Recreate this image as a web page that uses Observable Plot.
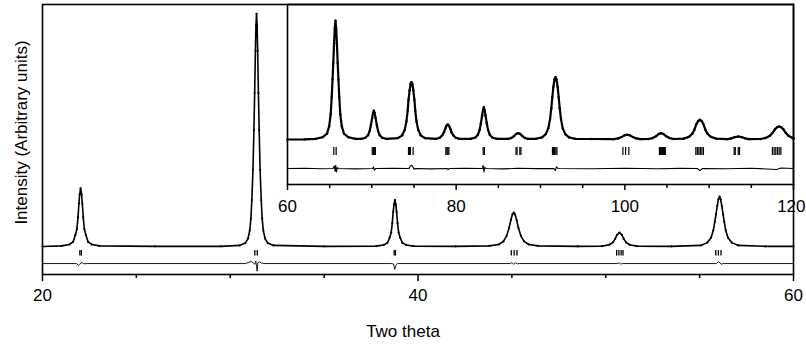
<!DOCTYPE html>
<html><head><meta charset="utf-8">
<script src="https://cdn.jsdelivr.net/npm/d3@7"></script>
<script src="https://cdn.jsdelivr.net/npm/@observablehq/plot@0.6"></script>
<style>
html,body{margin:0;padding:0;background:#fff;}
#chart{position:relative;width:806px;height:345px;}
#chart svg{position:absolute;overflow:visible;}
</style></head><body><div id="chart"></div>
<script>
// ---- Main pattern (2θ 20–60) : [two theta, intensity] ----
const mainProfile = [
[20,0],[21.03,0.3],[21.43,0.9],[21.63,2],[21.75,5],[21.83,7.5],[21.89,12.5],[21.94,18.5],[21.98,22.5],[22.03,25],[22.08,22.5],[22.12,18.5],[22.17,12.5],[22.23,7.5],[22.31,5],[22.43,2],[22.63,0.9],[23.03,0.3],[26,0.1],[29.5,0.1],
[30.5,0.5],[30.8,1.5],[30.95,3.5],[31.04,7],[31.1,12],[31.15,20],[31.21,33],[31.26,50],[31.3,66],[31.34,84],[31.37,95],[31.4,100],[31.43,95],[31.46,84],[31.5,66],[31.54,50],[31.59,33],[31.65,20],[31.7,12],[31.76,7],[31.85,3.5],[32.0,1.5],[32.3,0.5],[35,0.1],
[37.77,0.2],[38.17,0.7],[38.37,1.6],[38.49,3.8],[38.57,6],[38.63,10],[38.68,15],[38.72,18],[38.77,20],[38.82,18],[38.86,15],[38.91,10],[38.97,6],[39.05,3.8],[39.17,1.6],[39.37,0.7],[39.77,0.2],[42,0.1],
[43.8,0.3],[44.3,0.9],[44.55,2.2],[44.72,4.6],[44.85,8],[44.95,11.5],[45.03,13.8],[45.1,14.6],[45.17,13.8],[45.25,11.5],[45.35,8],[45.48,4.6],[45.65,2.2],[45.9,0.9],[46.4,0.3],[48.5,0.1],
[49.8,0.2],[50.2,0.8],[50.38,1.8],[50.5,3.3],[50.6,5],[50.73,6],[50.86,5],[50.96,3.3],[51.08,1.8],[51.26,0.8],[51.66,0.2],[53.5,0.1],
[55.06,0.5],[55.41,1.7],[55.61,3.8],[55.73,7],[55.81,10.7],[55.87,13.8],[55.94,17.5],[56.0,20.3],[56.06,21.5],[56.12,20.3],[56.18,17.5],[56.25,13.8],[56.31,10.7],[56.39,7],[56.51,3.8],[56.71,1.7],[57.06,0.5],[58.5,0.1],[60,0.1]
];
const mainDifference = [
[20,-7.3],[21.8,-7.3],[21.93,-8.1],[21.99,-7.6],[22.05,-6.9],[22.12,-7.0],[22.2,-7.4],[22.4,-7.3],[30.8,-7.3],[31.0,-6.8],[31.12,-6.4],[31.22,-7.0],[31.3,-7.6],[31.36,-6.2],[31.4,-8.5],[31.43,-10.6],[31.47,-7.0],[31.55,-6.5],[31.65,-7.0],[31.8,-7.3],
[38.6,-7.3],[38.7,-7.5],[38.76,-9.8],[38.82,-8.2],[38.9,-7.3],[44.9,-7.3],[45.0,-6.9],[45.1,-7.6],[45.2,-7.0],[45.3,-7.4],[45.4,-7.3],[50.6,-7.3],[50.7,-7.0],[50.8,-7.5],[50.9,-7.3],[55.9,-7.3],[56.0,-6.5],[56.08,-7.0],[56.15,-7.6],[56.25,-7.3],[60,-7.3]
];
const mainBragg = [21.99,22.07,31.31,31.44,38.73,38.8,44.97,45.12,45.27,50.58,50.7,50.82,50.92,55.86,56.0,56.14];
const mainMajorTicks = [20,40,60];
const mainMinorTicks = [25,30,35,45,50,55];

// ---- Inset pattern (2θ 60–120) ----
const insetProfile = [
[60,0],[62,0.1],[63.39,0.6],[64.19,2],[64.69,5],[64.94,11],[65.12,21],[65.24,35],[65.34,50],[65.43,64],[65.52,80],[65.61,93],[65.69,99],[65.77,93],[65.86,80],[65.95,64],[66.04,50],[66.14,35],[66.26,21],[66.44,11],[66.69,5],[67.19,2],[67.99,0.6],
[68.74,0.5],[69.24,1.5],[69.54,3.5],[69.74,7],[69.89,12],[70.04,18],[70.14,22],[70.24,24],[70.34,22],[70.44,18],[70.59,12],[70.74,7],[70.94,3.5],[71.24,1.5],[71.74,0.5],
[73.1,1.2],[73.6,3.5],[73.9,8],[74.1,15],[74.25,24],[74.35,33],[74.48,41],[74.6,46.5],[74.7,47.8],[74.8,46.5],[74.92,41],[75.05,33],[75.15,24],[75.3,15],[75.5,8],[75.8,3.5],[76.3,1.2],
[77.6,0.5],[78.05,1.5],[78.35,3.5],[78.55,6],[78.7,9],[78.85,11.5],[79.0,12.5],[79.15,11.5],[79.3,9],[79.45,6],[79.65,3.5],[79.95,1.5],[80.4,0.5],
[81.78,0.6],[82.28,1.7],[82.58,4],[82.78,8],[82.93,13.5],[83.08,20],[83.18,24.5],[83.28,27],[83.38,24.5],[83.48,20],[83.63,13.5],[83.78,8],[83.98,4],[84.28,1.7],[84.78,0.6],
[86.15,0.5],[86.55,1.3],[86.85,2.8],[87.1,4.6],[87.35,5.3],[87.6,4.6],[87.85,2.8],[88.15,1.3],[88.55,0.5],
[89.48,0.6],[90.18,1.8],[90.63,4.5],[90.93,9.5],[91.13,17],[91.28,26],[91.4,35],[91.53,44],[91.66,50],[91.78,52],[91.9,50],[92.03,44],[92.16,35],[92.28,26],[92.43,17],[92.63,9.5],[92.93,4.5],[93.38,1.8],[94.08,0.6],
[96,0.4],[98.7,0.3],[99.2,0.9],[99.6,2],[99.93,3.4],[100.28,4],[100.63,3.4],[100.96,2],[101.36,0.9],[101.86,0.3],
[102.8,0.4],[103.3,1.2],[103.7,2.7],[104.0,4.5],[104.3,5.3],[104.6,4.5],[104.9,2.7],[105.3,1.2],[105.8,0.4],
[107.0,0.8],[107.6,2.2],[108.0,4.8],[108.25,8.2],[108.5,13],[108.7,15.5],[108.9,16.4],[109.1,15.5],[109.3,13],[109.55,8.2],[109.8,4.8],[110.2,2.2],[110.8,0.8],
[112.15,0.3],[112.65,1],[113.05,2],[113.45,2.5],[113.85,2],[114.25,1],[114.75,0.3],
[116.1,0.4],[116.7,1.3],[117.2,3.1],[117.5,5.4],[117.8,8.5],[118.05,10.2],[118.3,10.8],[118.55,10.2],[118.8,8.5],[119.1,5.4],[119.4,3.1],[119.9,1.3],[120,1.1]
];
const insetDifference = [
[60,-24.2],[62,-23.9],[64,-24.4],[65.4,-24.2],[65.55,-22],[65.65,-26.5],[65.72,-21.5],[65.8,-27],[65.9,-23.5],[66.1,-24.2],[68,-24.5],[70.1,-24.2],[70.2,-22.8],[70.3,-25.5],[70.45,-24.2],[72.5,-23.9],
[74.4,-24.2],[74.55,-22],[74.7,-21.5],[74.85,-22.5],[75.0,-24.7],[75.2,-24.2],[77,-24.5],[78.9,-24.2],[79.05,-25],[79.2,-24.2],[81,-23.9],[83.1,-24.2],[83.2,-21.5],[83.3,-27],[83.4,-23.2],[83.55,-24.2],
[85.5,-24.5],[87.3,-24.0],[89.5,-24.3],[91.6,-24.2],[91.75,-25.8],[91.9,-22.8],[92.1,-24.2],[96,-24.4],[100,-24],[104,-24.4],[106.5,-24.1],[108.6,-24.2],[108.9,-26],[109.2,-24.2],[112,-24.4],[115,-24.0],[118,-25],[118.5,-23.8],[120,-24.2]
];
const insetBragg = [65.49,65.77,70.05,70.18,70.3,70.42,74.35,74.47,74.58,74.9,78.78,78.9,79.02,79.14,83.2,83.35,87.1,87.22,87.55,87.68,91.42,91.55,91.68,91.82,91.95,
99.77,100.09,100.48,104.1,104.22,104.34,104.46,104.58,104.7,104.8,108.42,108.6,108.78,108.96,109.14,109.32,112.96,113.1,113.45,113.6,117.5,117.7,117.9,118.1,118.3,118.5];
const insetMajorTicks = [60,80,100,120];
const insetMinorTicks = [65,70,75,85,90,95,105,110,115];

const xLabel = "Two theta";
const yLabel = "Intensity (Arbitrary units)";

const FONT = "'Liberation Sans', Arial, Helvetica, sans-serif";
const pts = a => a.map(([x, y]) => ({x, y}));
const lastInset = insetMajorTicks[insetMajorTicks.length - 1];

const main = Plot.plot({
  width: 806, height: 345,
  marginLeft: 42, marginRight: 13, marginTop: 4, marginBottom: 71,
  style: {fontFamily: FONT, background: "transparent", color: "black"},
  x: {domain: [20, 60]},
  y: {domain: [-12, 104], axis: null},
  marks: [
    Plot.frame({stroke: "black", strokeWidth: 1.6}),
    Plot.line(pts(mainProfile), {x: "x", y: "y", stroke: "black", strokeWidth: 1.6}),
    Plot.dot(pts(mainProfile), {x: "x", y: "y", r: 1.1, fill: "black", stroke: null}),
    Plot.ruleX(mainBragg, {x: d => d, y1: -1.7, y2: -4.1, stroke: "black", strokeWidth: 1.3}),
    Plot.line(pts(mainDifference), {x: "x", y: "y", stroke: "black", strokeWidth: 0.9}),
    Plot.axisX(mainMajorTicks, {tickSize: 7, tickPadding: 7, fontSize: 17, strokeWidth: 1.5, label: null, tickFormat: d => d}),
    Plot.axisX(mainMinorTicks, {tickSize: 4, strokeWidth: 1.5, label: null, tickFormat: () => ""}),
    Plot.text([xLabel], {frameAnchor: "bottom", dx: -15, dy: 57, fontSize: 17, lineAnchor: "middle", fill: "black"}),
    Plot.text([yLabel], {frameAnchor: "left", rotate: -90, dx: -21, dy: -7, fontSize: 17, lineAnchor: "middle", textAnchor: "middle", fill: "black"})
  ]
});
main.style.left = "0px"; main.style.top = "0px";

const inset = Plot.plot({
  width: 539, height: 225,
  marginLeft: 20, marginRight: 13, marginTop: 4, marginBottom: 41,
  style: {fontFamily: FONT, background: "transparent", color: "black"},
  x: {domain: [60, 120]},
  y: {domain: [-37.5, 112.5], axis: null},
  marks: [
    Plot.frame({stroke: "black", strokeWidth: 1.6}),
    Plot.line(pts(insetProfile), {x: "x", y: "y", stroke: "black", strokeWidth: 2.2}),
    Plot.dot(pts(insetProfile), {x: "x", y: "y", r: 1.2, fill: "black", stroke: null}),
    Plot.ruleX(insetBragg, {x: d => d, y1: -6.7, y2: -13.3, stroke: "black", strokeWidth: 1.2}),
    Plot.line(pts(insetDifference), {x: "x", y: "y", stroke: "black", strokeWidth: 1.1}),
    Plot.axisX(insetMajorTicks.slice(0, -1), {tickSize: 6, tickPadding: 9, fontSize: 17, strokeWidth: 1.5, label: null, tickFormat: d => d}),
    Plot.axisX([lastInset], {tickSize: 6, strokeWidth: 1.5, label: null, tickFormat: () => ""}),
    Plot.text([lastInset], {x: d => d, frameAnchor: "bottom", text: d => String(d), textAnchor: "end", lineAnchor: "top", dx: 12, dy: 15, fontSize: 17, fill: "black"}),
    Plot.axisX(insetMinorTicks, {tickSize: 4, strokeWidth: 1.5, label: null, tickFormat: () => ""})
  ]
});
inset.style.left = "267px"; inset.style.top = "0px";

const chart = document.getElementById("chart");
chart.appendChild(main);
chart.appendChild(inset);
</script></body></html>
